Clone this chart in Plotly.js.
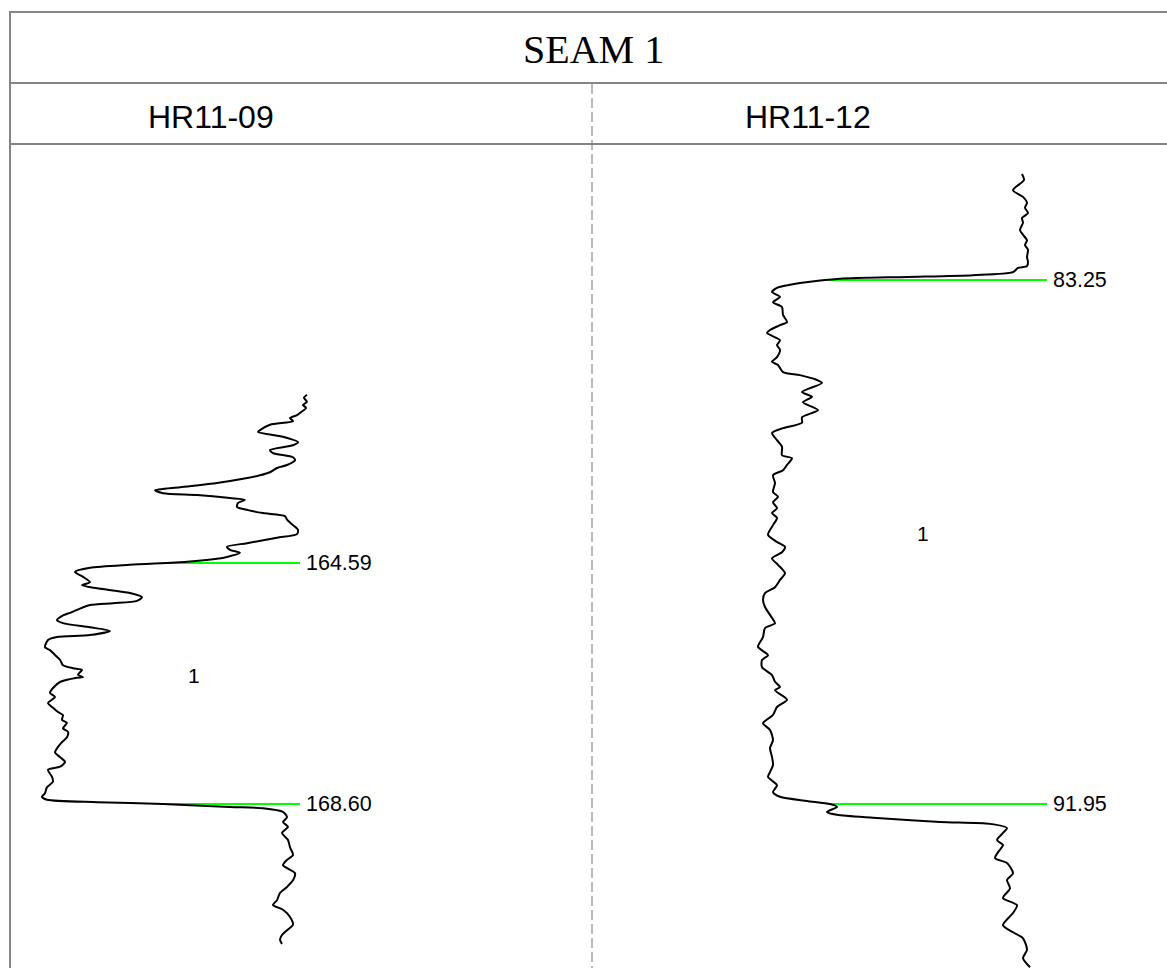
<!DOCTYPE html>
<html><head><meta charset="utf-8">
<script src="https://cdn.plot.ly/plotly-3.0.1.min.js"></script>
<style>html,body{margin:0;padding:0;background:#fff;}#chart{width:1167px;height:968px;}</style>
</head><body><div id="chart"></div>
<script>
// ---- data ----
const chartTitle = 'SEAM 1';
const wellNames = ['HR11-09', 'HR11-12'];
const seamName = '1';
const seamTops = [164.59, 83.25];
const seamBases = [168.60, 91.95];

const depthHR1109 = [161.79,161.84,161.91,161.96,162.01,162.08,162.13,162.18,162.23,162.29,
162.38,162.41,162.49,162.58,162.63,162.71,162.76,162.83,162.88,162.96,
163.01,163.08,163.13,163.19,163.26,163.33,163.38,163.43,163.46,163.51,
163.54,163.59,163.66,163.71,163.76,163.81,163.87,163.96,164.04,164.11,
164.17,164.26,164.32,164.37,164.42,164.49,164.52,164.57,164.62,164.67,
164.74,164.82,164.91,164.96,165.01,165.09,165.16,165.22,165.26,165.29,
165.37,165.42,165.46,165.54,165.59,165.66,165.72,165.79,165.82,165.87,
165.99,166.04,166.12,166.20,166.29,166.34,166.37,166.45,166.49,166.50,
166.57,166.67,166.75,166.82,166.92,167.00,167.07,167.12,167.20,167.25,
167.34,167.40,167.49,167.57,167.65,167.74,167.82,167.90,167.98,168.03,
168.15,168.23,168.32,168.42,168.48,168.53,168.57,168.60,168.65,168.67,
168.73,168.82,168.90,168.98,169.08,169.20,169.32,169.45,169.53,169.62,
169.75,169.87,169.98,170.08,170.20,170.28,170.36,170.48,170.61,170.70,170.78,170.86,170.93];
const gammaHR1109 = [74.25,73.5,74.25,73.25,74,72.75,71.75,70,70.75,65,
62.5,62,68.25,72,70.75,65,65.75,70.75,71.25,69.25,
66.75,65,62.5,58.25,51.75,42.5,36.25,38.25,46.75,55,
58.75,57,56.75,59.5,63.25,68.75,69.25,70.75,72,71.75,
66.75,59.25,54.25,55,57.5,54.25,51.75,44.25,30,20,
16.25,18.25,20,18,21.75,30,33,31.75,25.75,20,
16.75,15,13.25,11.75,13.25,20,25,20,11.75,9.5,
8.75,10,11.25,12.5,13.25,15.75,18,17,18.25,16.75,
12.5,10.75,10,11.25,9.5,10.75,12,13.25,13,14.25,
13.25,14.5,14.25,13,12,11.25,12.5,13.75,12.5,9.5,
10.5,10.75,9.25,8.75,8,9.25,21.75,38.25,55,63.25,
68.25,69.25,68.25,69.5,68,69.5,70,70.75,69.25,68.25,
71.25,70.75,69.25,67.5,66.75,65.75,68.25,70,70.75,69.25,68,67.5,68];

const depthHR1112 = [81.49,81.59,81.76,81.87,81.97,82.05,82.14,82.22,82.30,82.42,
82.50,82.59,82.67,82.75,82.87,82.95,83.02,83.05,83.12,83.17,
83.20,83.23,83.30,83.33,83.38,83.45,83.53,83.62,83.70,83.83,
83.95,84.00,84.08,84.13,84.25,84.33,84.41,84.53,84.61,84.66,
84.78,84.83,84.91,84.96,85.11,85.19,85.28,85.41,85.53,85.62,
85.71,85.79,85.87,86.02,86.16,86.21,86.32,86.41,86.49,86.62,
86.77,86.85,86.94,87.04,87.12,87.20,87.32,87.48,87.60,87.68,
87.77,87.87,87.98,88.12,88.23,88.35,88.45,88.56,88.68,88.86,
88.95,89.03,89.18,89.34,89.48,89.56,89.68,89.81,89.92,90.01,
90.06,90.22,90.34,90.47,90.61,90.72,90.89,91.02,91.17,91.30,
91.42,91.50,91.64,91.75,91.83,91.90,91.95,92.00,92.08,92.13,
92.18,92.25,92.28,92.35,92.43,92.55,92.63,92.75,92.85,92.93,
93.10,93.21,93.35,93.51,93.63,93.76,93.96,94.08,94.18,94.37,94.51,94.66];
const gammaHR1112 = [107.25,107.75,105,107.5,108.5,108,108.75,107.25,107.5,106.75,
107.5,108.5,108,108.75,108.5,108.75,108.5,106.25,105,95,
78.5,61.75,51.75,49.25,46,44.75,46.75,45,47.25,47.5,
48.5,46.75,44.25,43.5,46.75,46,46.75,46,44.75,46.25,
47.5,51.75,56,57.25,52.25,54.75,52.5,56.25,52.25,52.25,
47.5,44.75,45.5,47.25,47.25,49.75,48.5,47.5,45,45.5,
45,46.25,45,46,44.75,46,45,43.75,46,48,
47.25,44.75,46.25,48,46.75,45.5,43,42.5,43,44.75,
45.5,43,42.5,41.25,43.75,42.25,42.25,44.75,45.5,46.75,
45.5,48.5,46,45,42.5,44.25,45,44.25,44.75,45,
44.25,43.75,46,45,46.75,53.5,59.25,61,58.5,61,
70,86.75,99.25,103.5,102.5,101,102.5,101.25,100.5,103.5,
105,103.5,104.25,102.5,106,105,102.5,105,107.5,108.5,107.5,109.25];

// ---- drawing ----
const W = 1167, H = 968;
const px = x => x / W;
const py = y => 1 - y / H;
const frameColor = '#858585';
const sans = 'Liberation Sans, Arial, sans-serif';
const wells = [
  {name: wellNames[0], depth: depthHR1109, gamma: gammaHR1109, top: seamTops[0], base: seamBases[0],
   xa: 'x', ya: 'y', pickEnd: 72.5, seamX: 46, headerX: 211},
  {name: wellNames[1], depth: depthHR1112, gamma: gammaHR1112, top: seamTops[1], base: seamBases[1],
   xa: 'x2', ya: 'y2', pickEnd: 113.5, seamX: 82.5, headerX: 808}
];

function interp(depths, vals, d) {
  for (let i = 1; i < depths.length; i++) {
    if (depths[i] >= d) {
      const t = (d - depths[i-1]) / (depths[i] - depths[i-1]);
      return vals[i-1] + t * (vals[i] - vals[i-1]);
    }
  }
  return vals[vals.length - 1];
}

const traces = [];
const annotations = [];
wells.forEach(w => {
  [w.top, w.base].forEach(p => {
    traces.push({
      type: 'scatter', mode: 'lines', xaxis: w.xa, yaxis: w.ya,
      x: [interp(w.depth, w.gamma, p), w.pickEnd], y: [p, p],
      line: {color: '#00ff00', width: 2}, hoverinfo: 'skip', showlegend: false
    });
    annotations.push({
      xref: w.xa, yref: w.ya, x: w.pickEnd, y: p, xanchor: 'left', yanchor: 'middle',
      xshift: 4, text: p.toFixed(2), showarrow: false,
      font: {family: sans, size: 21.5, color: '#000'}
    });
  });
  traces.push({
    type: 'scatter', mode: 'lines', xaxis: w.xa, yaxis: w.ya,
    x: w.gamma, y: w.depth,
    line: {color: '#000', width: 2, shape: 'spline', smoothing: 0.7},
    hoverinfo: 'skip', showlegend: false
  });
  annotations.push({
    xref: w.xa, yref: w.ya, x: w.seamX, y: (w.top + w.base) / 2, yshift: 8,
    xanchor: 'center', yanchor: 'middle', text: seamName, showarrow: false,
    font: {family: sans, size: 21, color: '#000'}
  });
  annotations.push({
    xref: 'paper', yref: 'paper', x: px(w.headerX), y: py(116.5),
    xanchor: 'center', yanchor: 'middle', text: w.name, showarrow: false,
    font: {family: sans, size: 32, color: '#000'}
  });
});
annotations.push({
  xref: 'paper', yref: 'paper', x: px(593), y: py(49),
  xanchor: 'center', yanchor: 'middle', text: chartTitle, showarrow: false,
  font: {family: 'Liberation Serif, Times New Roman, serif', size: 40, color: '#000'}
});

const shapes = [
  {type: 'line', xref: 'paper', yref: 'paper', x0: px(10), x1: 1, y0: py(12), y1: py(12), line: {color: frameColor, width: 2}},
  {type: 'line', xref: 'paper', yref: 'paper', x0: px(10), x1: px(10), y0: py(11), y1: 0, line: {color: frameColor, width: 2}},
  {type: 'line', xref: 'paper', yref: 'paper', x0: px(10), x1: 1, y0: py(83), y1: py(83), line: {color: frameColor, width: 2}},
  {type: 'line', xref: 'paper', yref: 'paper', x0: px(10), x1: 1, y0: py(144), y1: py(144), line: {color: frameColor, width: 2}},
  {type: 'line', xref: 'paper', yref: 'paper', x0: px(592), x1: px(592), y0: py(84), y1: 0, line: {color: '#777', width: 1, dash: '10px,4px'}}
];

const hidden = {visible: false, fixedrange: true, showgrid: false, zeroline: false};
const layout = {
  width: W, height: H, margin: {l: 0, r: 0, t: 0, b: 0},
  paper_bgcolor: '#fff', plot_bgcolor: 'rgba(0,0,0,0)', showlegend: false,
  xaxis: Object.assign({domain: [px(10), px(593)], range: [0, 145.75], anchor: 'y'}, hidden),
  yaxis: Object.assign({domain: [0, py(145)], range: [171.329, 157.635], anchor: 'x'}, hidden),
  xaxis2: Object.assign({domain: [px(593), 1], range: [0, 143.5], anchor: 'y2'}, hidden),
  yaxis2: Object.assign({domain: [0, py(145)], range: [94.673, 81.009], anchor: 'x2'}, hidden),
  shapes: shapes, annotations: annotations
};
Plotly.newPlot('chart', traces, layout, {staticPlot: true, displayModeBar: false});
</script>
</body></html>
